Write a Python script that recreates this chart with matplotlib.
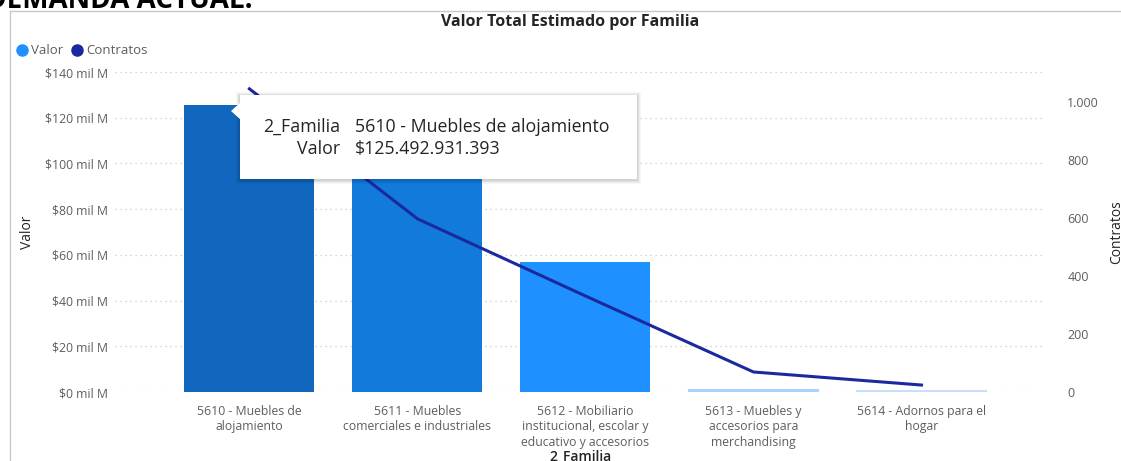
import matplotlib
matplotlib.use("Agg")
import matplotlib.pyplot as plt
from matplotlib.patches import Rectangle, Polygon
from matplotlib.lines import Line2D

plt.rcParams['font.family'] = ['Open Sans', 'DejaVu Sans']

# --- data ---
familias = [
    "5610 - Muebles de\nalojamiento",
    "5611 - Muebles\ncomerciales e industriales",
    "5612 - Mobiliario\ninstitucional, escolar y\neducativo y accesorios",
    "5613 - Muebles y\naccesorios para\nmerchandising",
    "5614 - Adornos para el\nhogar",
]
valor = [125.49, 98.0, 57.0, 1.3, 0.7]          # miles de millones
contratos = [1045, 597, 331, 69, 24]
bar_colors = ["#1167BD", "#117ADB", "#1E90FF", "#A8D3FB", "#C4E0FC"]
left_ticks = [0, 20, 40, 60, 80, 100, 120, 140]
right_ticks = [0, 200, 400, 600, 800, 1000]

W, H = 1121, 461
fig = plt.figure(figsize=(W / 100, H / 100), dpi=100)


def px(x, y):
    # pixel coords (from top-left) -> figure fraction
    return x / W, 1 - y / H


gray = "#605E5C"
dark = "#252423"
navy = "#1A2A9E"

# frame of the visual and the clipped page heading
fig.add_artist(Line2D([10 / W, 1], [1 - 11 / H, 1 - 11 / H], color="#C8C8C8", lw=1))
fig.add_artist(Line2D([10 / W, 10 / W], [0, 1 - 11 / H], color="#C8C8C8", lw=1))
fig.text(*px(-14, 8), "DEMANDA ACTUAL:", fontsize=20, fontweight="bold",
         color="black", ha="left", va="baseline")

ax = fig.add_axes([115 / W, 1 - 392 / H, 930 / W, 320 / H])
ax2 = ax.twinx()

x = list(range(len(familias)))
ax.bar(x, valor, width=0.774, color=bar_colors, zorder=3)
ax.set_xlim(-0.80, 4.735)
ax.set_ylim(0, 140)
ax.set_yticks(left_ticks)
ax.set_yticklabels([f"${v} mil M" for v in left_ticks])
ax.grid(axis="y", linestyle=(0, (1, 3)), color="#C8C8C8", lw=0.9, zorder=0)
ax.set_xticks(x)
ax.set_xticklabels(familias, fontsize=8.8, color=gray, linespacing=1.25)
ax.tick_params(axis="both", length=0, colors=gray, labelsize=8.8)
ax.tick_params(axis="y", pad=5)
ax.tick_params(axis="x", pad=9)
for s in ax.spines.values():
    s.set_visible(False)
ax.set_ylabel("Valor", fontsize=10, color=dark, labelpad=7)
ax.set_xlabel("2_Familia", fontsize=10, color=dark, fontweight="semibold", labelpad=1)

ax2.plot(x, contratos, color=navy, lw=2.2, zorder=4, solid_joinstyle="round")
ax2.set_ylim(0, 1103)
ax2.set_yticks(right_ticks)
ax2.set_yticklabels([f"{v:,}".replace(",", ".") for v in right_ticks])
ax2.tick_params(axis="y", length=0, colors=gray, labelsize=9, pad=16)
for s in ax2.spines.values():
    s.set_visible(False)
ax2.set_ylabel("Contratos", fontsize=10, color=dark, labelpad=7)

# title and legend
fig.text(*px(570, 22), "Valor Total Estimado por Familia", fontsize=11.5,
         fontweight="bold", color=dark, ha="center", va="center")
fig.add_artist(Line2D([22 / W], [1 - 50 / H], marker="o", ms=8, color="#1E90FF", lw=0))
fig.text(*px(31, 50), "Valor", fontsize=9.5, color=gray, va="center")
fig.add_artist(Line2D([77 / W], [1 - 50 / H], marker="o", ms=8, color=navy, lw=0))
fig.text(*px(86, 50), "Contratos", fontsize=9.5, color=gray, va="center")

# hover tooltip
tx0, ty0, tx1, ty1 = 240, 95, 637, 179
for d, a in [(4, 0.03), (3, 0.04), (2, 0.05), (1, 0.06)]:
    fig.add_artist(Rectangle(px(tx0 - d, ty1 + d + 1), (tx1 - tx0 + 2 * d) / W,
                             (ty1 - ty0 + 2 * d) / H, transform=fig.transFigure,
                             color="black", alpha=a, lw=0))
fig.add_artist(Rectangle(px(tx0, ty1), (tx1 - tx0) / W, (ty1 - ty0) / H,
                         transform=fig.transFigure, facecolor="white", lw=0))
fig.add_artist(Polygon([px(231, 111), px(241, 102), px(241, 120)],
                       transform=fig.transFigure, facecolor="white", lw=0))
fig.text(*px(340, 127), "2_Familia", fontsize=12.8, color=dark, ha="right", va="center")
fig.text(*px(355, 127), "5610 - Muebles de alojamiento", fontsize=12.8,
         color=dark, ha="left", va="center")
fig.text(*px(340, 149), "Valor", fontsize=12.8, color=dark, ha="right", va="center")
fig.text(*px(355, 149), "$125.492.931.393", fontsize=12.8, color=dark,
         ha="left", va="center")

fig.savefig("out.png", dpi=100)
